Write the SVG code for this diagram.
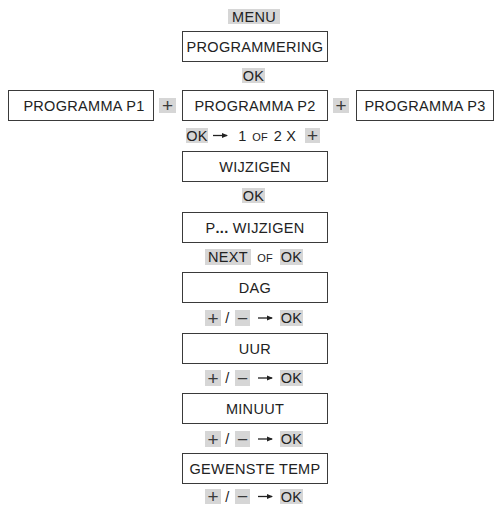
<svg xmlns="http://www.w3.org/2000/svg" width="495" height="505" viewBox="0 0 495 505">
<style>
  .box { fill: #ffffff; stroke: #3a3a3a; stroke-width: 1; }
  .key { fill: #d6d6d6; }
  .t { font-family: "Liberation Sans", Arial, sans-serif; font-size: 14.5px; letter-spacing: 0.3px; fill: #222222; text-anchor: middle; }
  .s { font-family: "Liberation Sans", Arial, sans-serif; font-size: 11px; fill: #222222; text-anchor: middle; }
  .pm { font-family: "Liberation Sans", Arial, sans-serif; font-size: 19px; fill: #3a3a3a; text-anchor: middle; }
  .arr { stroke: #222222; stroke-width: 1.3; fill: none; }
</style>
<defs>
  <marker id="ah" markerWidth="6" markerHeight="6" refX="5" refY="3" orient="auto" markerUnits="userSpaceOnUse">
    <path d="M0,0.5 L6,3 L0,5.5 Z" fill="#222222"/>
  </marker>
</defs>
<rect width="495" height="505" fill="#ffffff"/>

<g id="menu">
  <rect class="key" x="228" y="9" width="52" height="15"/>
  <text class="t" x="254" y="21.5">MENU</text>
</g>
<g id="programmering">
  <rect class="box" x="182.5" y="31.5" width="145" height="30"/>
  <text class="t" x="255" y="51.8">PROGRAMMERING</text>
</g>
<g id="ok1">
  <rect class="key" x="242" y="68" width="23" height="15"/>
  <text class="t" x="253.5" y="80.8">OK</text>
</g>
<g id="p1">
  <rect class="box" x="8.5" y="90.5" width="145" height="30"/>
  <text class="t" x="84" y="110.8">PROGRAMMA P1</text>
</g>
<g id="plus1">
  <rect class="key" x="159" y="98" width="17" height="15"/>
  <text class="pm" x="167.5" y="112">+</text>
</g>
<g id="p2">
  <rect class="box" x="182.5" y="90.5" width="145" height="30"/>
  <text class="t" x="255" y="110.8">PROGRAMMA P2</text>
</g>
<g id="plus2">
  <rect class="key" x="333" y="98" width="16" height="15"/>
  <text class="pm" x="341" y="112">+</text>
</g>
<g id="p3">
  <rect class="box" x="356.5" y="90.5" width="137" height="30"/>
  <text class="t" x="425" y="110.8">PROGRAMMA P3</text>
</g>
<g id="row-ok-1of2x">
  <rect class="key" x="186" y="128" width="22" height="15"/>
  <text class="t" x="197" y="140.8">OK</text>
  <text class="t" x="242.5" y="140.8">1</text>
  <text class="s" x="260" y="140.8">OF</text>
  <text class="t" x="285" y="140.8">2 X</text>
  <rect class="key" x="305" y="128" width="15" height="15"/>
  <text class="pm" x="312.5" y="142">+</text>
</g>
<g id="wijzigen">
  <rect class="box" x="182.5" y="151.5" width="145" height="30"/>
  <text class="t" x="255" y="171.8">WIJZIGEN</text>
</g>
<g id="ok2">
  <rect class="key" x="242" y="188" width="23" height="15"/>
  <text class="t" x="253.5" y="200.8">OK</text>
</g>
<g id="p-wijzigen">
  <rect class="box" x="182.5" y="212.5" width="145" height="30"/>
  <text class="t" x="255" y="232.8">P<tspan font-weight="bold">...</tspan> WIJZIGEN</text>
</g>
<g id="row-next">
  <rect class="key" x="205" y="249" width="46" height="16"/>
  <text class="t" x="228" y="262.3">NEXT</text>
  <text class="s" x="265" y="262.3">OF</text>
  <rect class="key" x="280" y="249" width="23" height="16"/>
  <text class="t" x="291.5" y="262.3">OK</text>
</g>
<g id="dag">
  <rect class="box" x="182.5" y="272.5" width="145" height="30"/>
  <text class="t" x="255" y="292.8">DAG</text>
</g>
<g id="row-dag">
  <rect class="key" x="205" y="310" width="16" height="16"/>
  <text class="pm" x="213" y="324.5">+</text>
  <text class="t" x="227.5" y="323.3">/</text>
  <rect class="key" x="235" y="310" width="15" height="16"/>
  <text class="pm" x="242.5" y="324.5">−</text>
  <rect class="key" x="280" y="310" width="23" height="16"/>
  <text class="t" x="291.5" y="323.3">OK</text>
</g>
<g id="uur">
  <rect class="box" x="182.5" y="333.5" width="145" height="30"/>
  <text class="t" x="255" y="353.8">UUR</text>
</g>
<g id="row-uur">
  <rect class="key" x="205" y="370" width="16" height="16"/>
  <text class="pm" x="213" y="384.5">+</text>
  <text class="t" x="227.5" y="383.3">/</text>
  <rect class="key" x="235" y="370" width="15" height="16"/>
  <text class="pm" x="242.5" y="384.5">−</text>
  <rect class="key" x="280" y="370" width="23" height="16"/>
  <text class="t" x="291.5" y="383.3">OK</text>
</g>
<g id="minuut">
  <rect class="box" x="182.5" y="393.5" width="145" height="30"/>
  <text class="t" x="255" y="413.8">MINUUT</text>
</g>
<g id="row-minuut">
  <rect class="key" x="205" y="431" width="16" height="16"/>
  <text class="pm" x="213" y="445.5">+</text>
  <text class="t" x="227.5" y="444.3">/</text>
  <rect class="key" x="235" y="431" width="15" height="16"/>
  <text class="pm" x="242.5" y="445.5">−</text>
  <rect class="key" x="280" y="431" width="23" height="16"/>
  <text class="t" x="291.5" y="444.3">OK</text>
</g>
<g id="gewenste-temp">
  <rect class="box" x="182.5" y="453.5" width="145" height="30"/>
  <text class="t" x="255" y="473.8">GEWENSTE TEMP</text>
</g>
<g id="row-temp">
  <rect class="key" x="205" y="489" width="16" height="15"/>
  <text class="pm" x="213" y="502.5">+</text>
  <text class="t" x="227.5" y="501.5">/</text>
  <rect class="key" x="235" y="489" width="15" height="15"/>
  <text class="pm" x="242.5" y="502.5">−</text>
  <rect class="key" x="280" y="489" width="23" height="15"/>
  <text class="t" x="291.5" y="501.5">OK</text>
</g>

<g id="connectors">
  <line class="arr" x1="213" y1="135.5" x2="227" y2="135.5" marker-end="url(#ah)"/>
  <line class="arr" x1="258" y1="318" x2="272" y2="318" marker-end="url(#ah)"/>
  <line class="arr" x1="258" y1="378" x2="272" y2="378" marker-end="url(#ah)"/>
  <line class="arr" x1="258" y1="439" x2="272" y2="439" marker-end="url(#ah)"/>
  <line class="arr" x1="258" y1="496.5" x2="272" y2="496.5" marker-end="url(#ah)"/>
</g>
</svg>
